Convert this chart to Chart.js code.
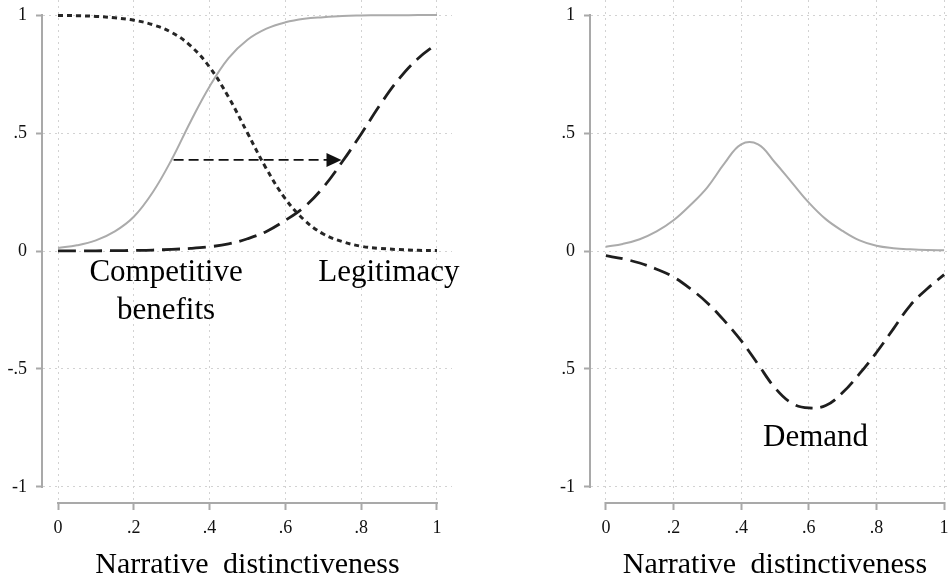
<!DOCTYPE html>
<html>
<head>
<meta charset="utf-8">
<script src="https://cdn.jsdelivr.net/npm/chart.js@4"></script>
<style>
    html, body { margin: 0; padding: 0; background: #fff; overflow: hidden; width: 951px; height: 583px; }
    #left-chart { position: absolute; left: 0; top: 0; }
    #right-chart { position: absolute; left: 540px; top: 0; }
</style>
</head>
<body>
<canvas id="left-chart" width="470" height="583"></canvas>
<canvas id="right-chart" width="419" height="583"></canvas>
<script>
// x positions shared by both panels
var distinctiveness = [0, 0.05, 0.1, 0.15, 0.2, 0.25, 0.3, 0.35, 0.4, 0.45, 0.5, 0.55, 0.6, 0.65, 0.7, 0.75, 0.8, 0.85, 0.9, 0.95, 1];

// left panel curves
var competitiveBenefits = [0.998, 0.997, 0.994, 0.988, 0.978, 0.959, 0.926, 0.869, 0.779, 0.652, 0.5, 0.348, 0.221, 0.131, 0.072, 0.04, 0.02, 0.011, 0.006, 0.003, 0.002];
var legitimacyBefore = [0.013, 0.024, 0.045, 0.083, 0.145, 0.249, 0.388, 0.549, 0.697, 0.817, 0.895, 0.942, 0.969, 0.984, 0.991, 0.996, 0.998, 0.999, 0.999, 1, 1];
var legitimacyAfter = [0.0003, 0.0006, 0.0009, 0.0015, 0.0025, 0.004, 0.007, 0.011, 0.018, 0.03, 0.052, 0.083, 0.13, 0.187, 0.27, 0.378, 0.496, 0.62, 0.73, 0.816, 0.879];

// right panel curves
var demandBefore = [0.018, 0.03, 0.05, 0.083, 0.13, 0.195, 0.27, 0.37, 0.452, 0.452, 0.375, 0.29, 0.205, 0.135, 0.085, 0.045, 0.022, 0.012, 0.007, 0.004, 0.003];
var demandAfter = [-0.02, -0.033, -0.051, -0.077, -0.11, -0.16, -0.22, -0.295, -0.38, -0.48, -0.58, -0.645, -0.665, -0.655, -0.6, -0.52, -0.43, -0.33, -0.23, -0.16, -0.1];

// ticks
var xTicks = [0, 0.2, 0.4, 0.6, 0.8, 1];
var xTickLabels = ['0', '.2', '.4', '.6', '.8', '1'];
var yTicks = [-1, -0.5, 0, 0.5, 1];
var leftYTickLabels = ['-1', '-.5', '0', '.5', '1'];
var rightYTickLabels = ['-1', '.5', '0', '.5', '1'];
var xTitle = 'Narrative distinctiveness';

var SERIF = '"Liberation Serif", "Times New Roman", serif';
var AXIS_GRAY = '#a9a9a9';
var GRID_GRAY = '#d2d2d2';

function toPoints(xs, ys){
    return xs.map(function(x, i){ return {x: x, y: ys[i]}; });
}

function curve(ys, color, width, dash){
    return {
        data: toPoints(distinctiveness, ys),
        borderColor: color,
        borderWidth: width,
        borderDash: dash,
        pointRadius: 0,
        fill: false,
        tension: 0.4
    };
}

function makeScales(yLabels, yWidth, xPad){
    return {
        x: {
            type: 'linear',
            min: -xPad,
            max: 1 + xPad,
            afterBuildTicks: function(s){ s.ticks = xTicks.map(function(v){ return {value: v}; }); },
            afterFit: function(s){ s.height = 81; s.paddingLeft = 0; s.paddingRight = 0; },
            ticks: {
                callback: function(v, i){ return xTickLabels[i]; },
                font: {family: SERIF, size: 18},
                color: '#111',
                padding: 7,
                maxRotation: 0,
                autoSkip: false
            },
            grid: {color: GRID_GRAY, lineWidth: 1, tickColor: AXIS_GRAY, tickWidth: 2, tickLength: 8},
            border: {display: false, dash: [2, 4]},
            title: {display: true, text: xTitle, font: {family: SERIF, size: 30}, color: '#000', padding: {top: 0, bottom: 0}}
        },
        y: {
            type: 'linear',
            min: -1.0636,
            max: 1.0636,
            afterBuildTicks: function(s){ s.ticks = yTicks.map(function(v){ return {value: v}; }); },
            afterFit: function(s){ s.width = yWidth; s.paddingTop = 0; s.paddingBottom = 0; },
            ticks: {
                callback: function(v, i){ return yLabels[i]; },
                font: {family: SERIF, size: 18},
                color: '#111',
                padding: 9,
                autoSkip: false
            },
            grid: {color: GRID_GRAY, lineWidth: 1, tickColor: AXIS_GRAY, tickWidth: 2, tickLength: 7},
            border: {display: false, dash: [2, 4]}
        }
    };
}

// wider gap between words, as in the original axis title
var wordGap = {
    id: 'wordGap',
    beforeDraw: function(chart){ chart.ctx.wordSpacing = '7px'; }
};

// stata style axis lines, only between first and last tick
var axisLines = {
    id: 'axisLines',
    afterDraw: function(chart){
        var ctx = chart.ctx, xs = chart.scales.x, ys = chart.scales.y, area = chart.chartArea;
        ctx.save();
        ctx.strokeStyle = AXIS_GRAY;
        ctx.lineWidth = 2;
        ctx.setLineDash([]);
        ctx.beginPath();
        ctx.moveTo(area.left - 1, ys.getPixelForValue(yTicks[yTicks.length - 1]) - 1);
        ctx.lineTo(area.left - 1, ys.getPixelForValue(yTicks[0]) + 1);
        ctx.moveTo(xs.getPixelForValue(xTicks[0]) - 1, area.bottom + 1);
        ctx.lineTo(xs.getPixelForValue(xTicks[xTicks.length - 1]) + 1, area.bottom + 1);
        ctx.stroke();
        ctx.restore();
    }
};

// text notes and the shift arrow
var notes = {
    id: 'notes',
    afterDatasetsDraw: function(chart, args, opts){
        var ctx = chart.ctx, xs = chart.scales.x, ys = chart.scales.y;
        ctx.save();
        (opts.labels || []).forEach(function(l){
            ctx.font = '31px ' + SERIF;
            ctx.fillStyle = '#000';
            ctx.textAlign = 'center';
            ctx.textBaseline = 'alphabetic';
            var px = xs.getPixelForValue(l.x), py = ys.getPixelForValue(l.y);
            l.lines.forEach(function(t, k){ ctx.fillText(t, px, py + k * 38); });
        });
        if (opts.arrow) {
            var a = opts.arrow;
            var x1 = xs.getPixelForValue(a.from), x2 = xs.getPixelForValue(a.to), y = ys.getPixelForValue(a.y);
            ctx.strokeStyle = '#111';
            ctx.fillStyle = '#111';
            ctx.lineWidth = 1.8;
            ctx.setLineDash([10, 5]);
            ctx.beginPath();
            ctx.moveTo(x1, y);
            ctx.lineTo(x2 - 14, y);
            ctx.stroke();
            ctx.setLineDash([]);
            ctx.beginPath();
            ctx.moveTo(x2, y);
            ctx.lineTo(x2 - 15, y - 7);
            ctx.lineTo(x2 - 15, y + 7);
            ctx.closePath();
            ctx.fill();
        }
        ctx.restore();
    }
};

//left chart
function showLeftChart(){
    var ctx = document.getElementById('left-chart');
    new Chart(ctx, {
        type: 'line',
        data: {
            datasets: [
                curve(legitimacyBefore, '#ababab', 2, []),
                curve(competitiveBenefits, '#262626', 3, [5, 4]),
                curve(legitimacyAfter, '#1e1e1e', 2.8, [18, 8])
            ]
        },
        options: {
            responsive: false,
            animation: false,
            devicePixelRatio: 1,
            layout: {padding: {left: 0, right: 18, top: 0, bottom: 0}},
            scales: makeScales(leftYTickLabels, 43, 0.0396),
            plugins: {
                legend: {display: false},
                tooltip: {enabled: false},
                notes: {
                    labels: [
                        {lines: ['Competitive', 'benefits'], x: 0.285, y: -0.127},
                        {lines: ['Legitimacy'], x: 0.873, y: -0.127}
                    ],
                    arrow: {from: 0.305, to: 0.748, y: 0.386}
                }
            }
        },
        plugins: [wordGap, axisLines, notes]
    });
}

//right chart
function showRightChart(){
    var ctx = document.getElementById('right-chart');
    new Chart(ctx, {
        type: 'line',
        data: {
            datasets: [
                curve(demandBefore, '#ababab', 2, []),
                curve(demandAfter, '#1e1e1e', 2.8, [17, 8])
            ]
        },
        options: {
            responsive: false,
            animation: false,
            devicePixelRatio: 1,
            layout: {padding: 0},
            scales: makeScales(rightYTickLabels, 51, 0.044),
            plugins: {
                legend: {display: false},
                tooltip: {enabled: false},
                notes: {
                    labels: [
                        {lines: ['Demand'], x: 0.62, y: -0.826}
                    ]
                }
            }
        },
        plugins: [wordGap, axisLines, notes]
    });
}

init();
function init(){
    //left panel
    showLeftChart();
    //right panel
    showRightChart();
}
</script>
</body>
</html>
